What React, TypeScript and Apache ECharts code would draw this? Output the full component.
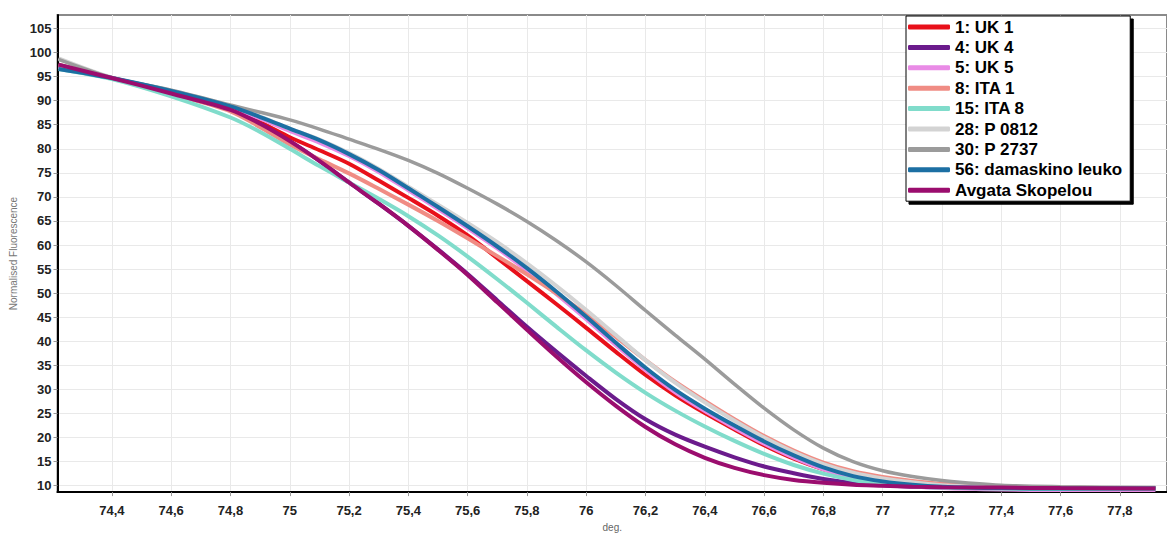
import React, { useEffect, useRef } from "react";
import * as echarts from "echarts";

// temperature points (deg.)
const temps = [74.22, 74.4, 74.6, 74.8, 74.9, 75.0, 75.1, 75.2, 75.3, 75.4, 75.5, 75.6, 75.7, 75.8, 75.9, 76.0, 76.1, 76.2, 76.3, 76.4, 76.5, 76.6, 76.7, 76.8, 76.9, 77.0, 77.1, 77.2, 77.4, 77.6, 77.92];

const uk1 = [97.3, 94.7, 91.6, 88.1, 85.5, 82.4, 79.7, 76.9, 73.4, 69.8, 66.1, 62.0, 57.3, 52.5, 47.7, 42.8, 37.8, 33.0, 28.8, 25.1, 21.7, 18.4, 15.6, 13.4, 11.9, 10.9, 10.3, 9.9, 9.6, 9.5, 9.4];
const uk4 = [97.4, 94.7, 91.5, 88.1, 85.2, 81.6, 77.5, 73.0, 68.6, 64.0, 59.1, 54.0, 48.5, 43.0, 37.8, 32.8, 28.0, 23.8, 20.6, 18.1, 15.9, 14.0, 12.6, 11.4, 10.6, 10.1, 9.8, 9.7, 9.6, 9.5, 9.5];
const uk5 = [97.0, 94.7, 91.9, 88.6, 86.3, 83.7, 81.3, 78.5, 75.2, 71.4, 67.5, 63.5, 59.3, 54.7, 49.8, 44.6, 39.2, 34.0, 29.4, 25.5, 22.0, 18.7, 15.8, 13.4, 11.7, 10.6, 9.9, 9.5, 9.2, 9.1, 9.1];
const ita1 = [97.5, 94.7, 91.4, 87.8, 84.5, 80.9, 77.8, 74.9, 71.7, 68.4, 65.0, 61.4, 57.7, 53.9, 49.9, 45.6, 40.9, 36.1, 31.6, 27.6, 23.8, 20.3, 17.3, 14.8, 13.0, 11.8, 11.0, 10.4, 9.8, 9.6, 9.5];
const ita8 = [96.6, 94.5, 90.9, 86.5, 83.5, 80.0, 76.4, 73.0, 69.6, 66.0, 62.0, 57.6, 52.9, 48.0, 43.0, 38.1, 33.5, 29.3, 25.6, 22.3, 19.3, 16.6, 14.3, 12.5, 11.2, 10.4, 9.9, 9.6, 9.4, 9.3, 9.3];
const p0812 = [98.8, 94.8, 92.1, 88.9, 86.7, 84.2, 81.9, 79.1, 75.8, 72.1, 68.4, 64.6, 60.6, 56.2, 51.5, 46.5, 41.3, 36.1, 31.4, 27.3, 23.5, 20.0, 17.0, 14.5, 12.7, 11.5, 10.7, 10.1, 9.7, 9.5, 9.4];
const p2737 = [98.6, 94.8, 92.2, 89.1, 87.6, 86.0, 84.1, 82.0, 79.9, 77.6, 74.9, 71.8, 68.5, 64.9, 60.9, 56.5, 51.6, 46.4, 41.3, 36.3, 31.1, 26.1, 21.6, 17.8, 15.0, 13.1, 11.9, 11.1, 10.1, 9.8, 9.6];
const damaskino = [96.6, 94.7, 92.0, 88.8, 86.6, 84.2, 81.8, 78.9, 75.6, 71.8, 67.9, 63.9, 59.7, 55.2, 50.3, 45.1, 39.7, 34.5, 29.9, 26.0, 22.5, 19.2, 16.3, 13.8, 12.0, 10.9, 10.2, 9.8, 9.5, 9.4, 9.4];
const avgata = [97.5, 94.7, 91.5, 88.1, 85.2, 81.6, 77.5, 73.0, 68.6, 64.0, 59.0, 53.8, 48.1, 42.4, 36.8, 31.5, 26.6, 22.2, 18.6, 15.8, 13.7, 12.2, 11.2, 10.6, 10.2, 10.0, 9.8, 9.7, 9.6, 9.5, 9.4];

const seriesNames = ["1: UK 1", "4: UK 4", "5: UK 5", "8: ITA 1", "15: ITA 8", "28: P 0812", "30: P 2737", "56: damaskino leuko", "Avgata Skopelou"];
const seriesValues = [uk1, uk4, uk5, ita1, ita8, p0812, p2737, damaskino, avgata];
const seriesColors = ["#e8101a", "#6b1b8c", "#e98be6", "#f08c84", "#80dccb", "#d3d3d3", "#9b9b9b", "#1c6fa3", "#9b0d6e"];

const xTicks = [74.4, 74.6, 74.8, 75, 75.2, 75.4, 75.6, 75.8, 76, 76.2, 76.4, 76.6, 76.8, 77, 77.2, 77.4, 77.6, 77.8];
const yTicks = [10, 15, 20, 25, 30, 35, 40, 45, 50, 55, 60, 65, 70, 75, 80, 85, 90, 95, 100, 105];

const FONT = "'Liberation Sans', Arial, sans-serif";

export default function App() {
  const ref = useRef<HTMLDivElement>(null);
  useEffect(() => {
    document.body.style.margin = "0";
    const chart = echarts.init(ref.current!, null, { renderer: "svg" });
    chart.setOption({
      animation: false,
      backgroundColor: "#fff",
      grid: {
        left: 57.5,
        right: -2,
        top: 15,
        bottom: 36,
        show: true,
        borderColor: "#8a8a8a",
        borderWidth: 2,
        backgroundColor: "transparent",
      },
      xAxis: {
        type: "value",
        min: 74.2165,
        max: 77.959,
        name: "deg.",
        nameLocation: "middle",
        nameGap: 28,
        nameTextStyle: { color: "#666", fontSize: 10, fontFamily: FONT },
        axisLine: { show: true, onZero: false, lineStyle: { color: "#000", width: 2 } },
        axisTick: { show: true, customValues: xTicks, length: 4, lineStyle: { color: "#999" } },
        axisLabel: {
          customValues: xTicks,
          formatter: (v: number) => String(v).replace(".", ","),
          fontWeight: "bold",
          fontSize: 13,
          color: "#222",
          margin: 12,
          fontFamily: FONT,
        },
        splitLine: { show: true, lineStyle: { color: "#e9e9e9", width: 1 } },
      },
      yAxis: {
        type: "value",
        min: 8.67,
        max: 107.8,
        name: "Normalised Fluorescence",
        nameLocation: "middle",
        nameGap: 37,
        nameRotate: 90,
        nameTextStyle: { color: "#777", fontSize: 10, fontFamily: FONT },
        axisLine: { show: true, onZero: false, lineStyle: { color: "#000", width: 2 } },
        axisTick: { show: true, customValues: yTicks, length: 4, lineStyle: { color: "#999" } },
        axisLabel: {
          customValues: yTicks,
          fontWeight: "bold",
          fontSize: 13,
          color: "#222",
          margin: 6,
          fontFamily: FONT,
        },
        splitLine: { show: true, lineStyle: { color: "#e9e9e9", width: 1 } },
      },
      legend: {
        orient: "vertical",
        left: 906,
        top: 16,
        padding: [1, 8, 1, 2],
        itemGap: 0.4,
        itemWidth: 42,
        itemHeight: 5,
        icon: "roundRect",
        backgroundColor: "#fff",
        borderColor: "#000",
        borderWidth: 1,
        shadowColor: "#000",
        shadowOffsetX: 3,
        shadowOffsetY: 3,
        shadowBlur: 0.5,
        selectedMode: false,
        textStyle: { fontSize: 17, fontWeight: "bold", color: "#000", fontFamily: FONT, lineHeight: 20 },
        data: seriesNames,
      },
      series: seriesNames.map((name, i) => ({
        name,
        type: "line",
        smooth: 0.3,
        showSymbol: false,
        color: seriesColors[i],
        lineStyle: { width: i === 6 ? 3.5 : 4, color: seriesColors[i] },
        data: temps.map((t, j) => [t, seriesValues[i][j]]),
      })),
    });
    return () => chart.dispose();
  }, []);
  return <div ref={ref} style={{ width: 1167, height: 537 }} />;
}
